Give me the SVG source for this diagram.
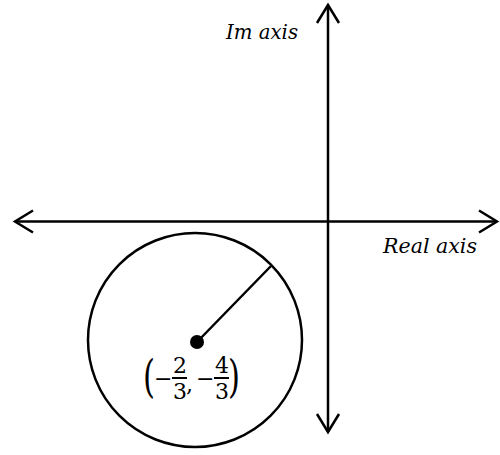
<svg xmlns="http://www.w3.org/2000/svg" width="500" height="455" viewBox="0 0 500 455">
<style>
.ax{stroke:#000;stroke-width:2.5;fill:none}
.lbl{font-family:'DejaVu Serif',serif;font-style:italic;font-size:21px;fill:#000}
.m{font-family:'DejaVu Serif',serif;font-size:22px;fill:#000}
.p{font-family:'DejaVu Serif',serif;font-size:44px;fill:#000}
</style>
<defs>
<marker id="arr" markerUnits="userSpaceOnUse" markerWidth="30" markerHeight="30" viewBox="-20 -15 30 30" refX="0" refY="0" orient="auto-start-reverse">
<path d="M-18,-11 L0,0 L-18,11" fill="none" stroke="#000" stroke-width="2.5"/>
</marker>
</defs>
<rect width="500" height="455" fill="#fff"/>
<g id="connectors">
<line id="x-axis" class="ax" x1="15" y1="221.5" x2="497" y2="221.5" marker-start="url(#arr)" marker-end="url(#arr)"/>
<line id="y-axis" class="ax" x1="328" y1="5" x2="328" y2="432" marker-start="url(#arr)" marker-end="url(#arr)"/>
<line id="radius" class="ax" x1="197" y1="342" x2="271" y2="266"/>
</g>
<g id="circle">
<circle cx="195" cy="340" r="107" class="ax"/>
</g>
<g id="center">
<circle cx="197" cy="342" r="7" fill="#000"/>
</g>
<g id="im-label"><text class="lbl" x="226" y="39" textLength="72" lengthAdjust="spacingAndGlyphs">Im axis</text></g>
<g id="real-label"><text class="lbl" x="383" y="253" textLength="94" lengthAdjust="spacingAndGlyphs">Real axis</text></g>
<g id="coord">
<text class="p" transform="translate(143,392) scale(0.7,1)">(</text>
<text class="m" x="154" y="386">−</text>
<text class="m" x="173" y="373">2</text>
<line x1="172" y1="378" x2="187" y2="378" stroke="#000" stroke-width="2"/>
<text class="m" x="173" y="399">3</text>
<text class="m" x="186" y="392">,</text>
<text class="m" x="196" y="386">−</text>
<text class="m" x="215" y="373">4</text>
<line x1="214" y1="378" x2="229" y2="378" stroke="#000" stroke-width="2"/>
<text class="m" x="215" y="399">3</text>
<text class="p" transform="translate(228,392) scale(0.7,1)">)</text>
</g>
</svg>
